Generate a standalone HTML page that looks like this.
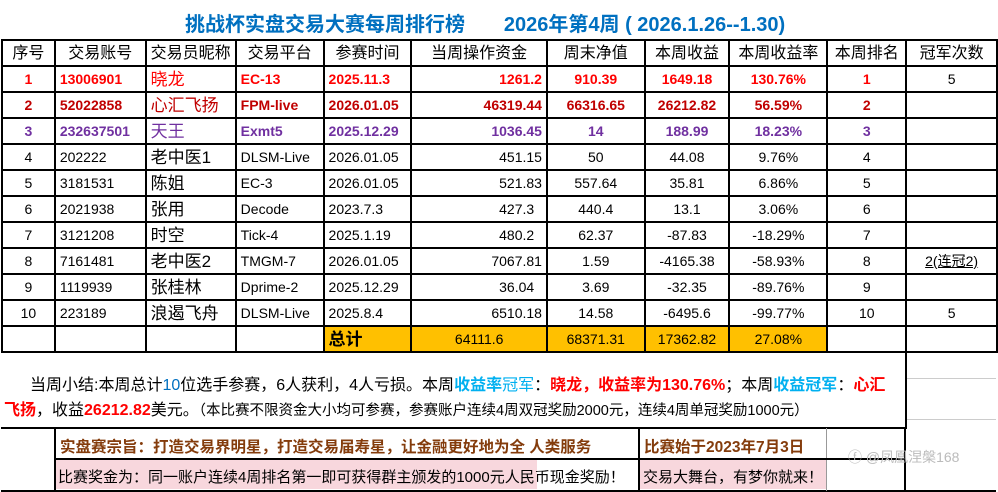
<!DOCTYPE html>
<html><head><meta charset="utf-8"><style>
body{margin:0;width:998px;height:491px;background:#fff;overflow:hidden;position:relative;font-family:"Liberation Sans","Noto Sans CJK SC",sans-serif;}
.t{position:absolute;white-space:nowrap;}
table{position:absolute;left:1px;top:39px;border-collapse:collapse;table-layout:fixed;}
tr{height:26px;}
td{border:2px solid #000;padding:0 4px;font-size:14px;line-height:17px;white-space:nowrap;overflow:hidden;}
tr.h td{font-size:16px;text-align:center;}
.c{text-align:center}.r{text-align:right}
tr.r1 td{color:#f00;font-weight:bold}
tr.r2 td{color:#c00000;font-weight:bold}
tr.r3 td{color:#7030a0;font-weight:bold}
.big{font-size:17px!important;font-weight:normal!important}
.gold{background:#ffc000;text-align:center}
</style></head><body>
<div class="t" style="left:185px;top:8px;font-size:20px;font-weight:bold;color:#0070c0;">挑战杯实盘交易大赛每周排行榜&nbsp;&nbsp;&nbsp;&nbsp;&nbsp;&nbsp;&nbsp;2026年第4周 ( 2026.1.26--1.30)</div>
<table>
<colgroup><col style="width:53px"><col style="width:91px"><col style="width:88px"><col style="width:88px"><col style="width:88px"><col style="width:136px"><col style="width:98px"><col style="width:85px"><col style="width:98px"><col style="width:79px"><col style="width:91px"></colgroup>
<tr class="h"><td>序号</td><td>交易账号</td><td>交易员昵称</td><td>交易平台</td><td>参赛时间</td><td>当周操作资金</td><td>周末净值</td><td>本周收益</td><td>本周收益率</td><td>本周排名</td><td>冠军次数</td></tr>
<tr class="r1"><td class="c">1</td><td>13006901</td><td class="big">晓龙</td><td>EC-13</td><td>2025.11.3</td><td class="r">1261.2</td><td class="c">910.39</td><td class="c">1649.18</td><td class="c">130.76%</td><td class="c">1</td><td class="c" style="color:#000;font-weight:normal">5</td></tr>
<tr class="r2"><td class="c">2</td><td>52022858</td><td class="big">心汇飞扬</td><td>FPM-live</td><td>2026.01.05</td><td class="r">46319.44</td><td class="c">66316.65</td><td class="c">26212.82</td><td class="c">56.59%</td><td class="c">2</td><td></td></tr>
<tr class="r3"><td class="c">3</td><td>232637501</td><td class="big">天王</td><td>Exmt5</td><td>2025.12.29</td><td class="r">1036.45</td><td class="c">14</td><td class="c">188.99</td><td class="c">18.23%</td><td class="c">3</td><td></td></tr>
<tr><td class="c">4</td><td>202222</td><td class="big">老中医1</td><td>DLSM-Live</td><td>2026.01.05</td><td class="r">451.15</td><td class="c">50</td><td class="c">44.08</td><td class="c">9.76%</td><td class="c">4</td><td></td></tr>
<tr><td class="c">5</td><td>3181531</td><td class="big">陈姐</td><td>EC-3</td><td>2026.01.05</td><td class="r">521.83</td><td class="c">557.64</td><td class="c">35.81</td><td class="c">6.86%</td><td class="c">5</td><td></td></tr>
<tr><td class="c">6</td><td>2021938</td><td class="big">张用</td><td>Decode</td><td>2023.7.3</td><td class="r">427.3&nbsp;&nbsp;</td><td class="c">440.4</td><td class="c">13.1</td><td class="c">3.06%</td><td class="c">6</td><td></td></tr>
<tr><td class="c">7</td><td>3121208</td><td class="big">时空</td><td>Tick-4</td><td>2025.1.19</td><td class="r">480.2&nbsp;&nbsp;</td><td class="c">62.37</td><td class="c">-87.83</td><td class="c">-18.29%</td><td class="c">7</td><td></td></tr>
<tr><td class="c">8</td><td>7161481</td><td class="big">老中医2</td><td>TMGM-7</td><td>2026.01.05</td><td class="r">7067.81</td><td class="c">1.59</td><td class="c">-4165.38</td><td class="c">-58.93%</td><td class="c">8</td><td class="c" style="text-decoration:underline">2(连冠2)</td></tr>
<tr><td class="c">9</td><td>1119939</td><td class="big">张桂林</td><td>Dprime-2</td><td>2025.12.29</td><td class="r">36.04&nbsp;&nbsp;</td><td class="c">3.69</td><td class="c">-32.35</td><td class="c">-89.76%</td><td class="c">9</td><td></td></tr>
<tr><td class="c">10</td><td>223189</td><td class="big">浪遏飞舟</td><td>DLSM-Live</td><td>2025.8.4</td><td class="r">6510.18</td><td class="c">14.58</td><td class="c">-6495.6</td><td class="c">-99.77%</td><td class="c">10</td><td class="c">5</td></tr>
<tr><td></td><td></td><td></td><td></td><td style="background:#ffc000;font-size:17px;font-weight:bold">总计</td><td class="gold">64111.6</td><td class="gold">68371.31</td><td class="gold">17362.82</td><td class="gold">27.08%</td><td></td><td></td></tr>
</table>
<div style="position:absolute;left:1px;top:351px;width:904px;height:76px;border-right:2px solid #000;border-bottom:2px solid #000;"></div>
<div style="position:absolute;left:907px;top:378px;width:89px;border-top:1px solid #ccc"></div>
<div style="position:absolute;left:907px;top:419px;width:89px;border-top:1px solid #ccc"></div>
<div class="t" style="left:30px;top:371px;font-size:16px;">当周小结:本周总计<span style="color:#0070c0">10</span>位选手参赛，6人获利，4人亏损。本周<b style="color:#00b0f0">收益率</b><span style="color:#00b0f0">冠军</span>：<b style="color:#f00">晓龙，收益率为130.76%</b>；本周<b style="color:#00b0f0">收益冠军</b>：<b style="color:#f00">心汇</b></div>
<div class="t" style="left:4px;top:396px;font-size:16px;"><b style="color:#f00">飞扬</b>，收益<b style="color:#f00">26212.82</b>美元。<span style="font-size:14.5px">（本比赛不限资金大小均可参赛，参赛账户连续4周双冠奖励2000元，连续4周单冠奖励1000元）</span></div>
<div style="position:absolute;left:1px;top:428px;width:995px;height:62px;border-bottom:2px solid #000"></div>
<div style="position:absolute;left:54px;top:428px;height:63px;border-left:2px solid #000"></div>
<div style="position:absolute;left:638px;top:428px;height:63px;border-left:2px solid #000"></div>
<div style="position:absolute;left:826px;top:428px;height:63px;border-left:1px solid #999"></div>
<div style="position:absolute;left:904px;top:428px;height:63px;border-left:2px solid #000"></div>
<div style="position:absolute;left:55px;top:458px;width:850px;border-top:2px solid #000"></div>
<div style="position:absolute;left:56px;top:460px;width:481px;height:29px;background:#f8d7dd"></div>
<div style="position:absolute;left:640px;top:460px;width:186px;height:29px;background:#f8d7dd"></div>
<div class="t" style="left:60px;top:435px;font-size:15.5px;font-weight:bold;color:#843c0c">实盘赛宗旨：打造交易界明星，打造交易届寿星，让金融更好地为全 人类服务</div>
<div class="t" style="left:644px;top:435px;font-size:15.5px;font-weight:bold;color:#843c0c">比赛始于2023年7月3日</div>
<div class="t" style="left:58px;top:466px;font-size:15px;color:#000">比赛奖金为：同一账户连续4周排名第一即可获得群主颁发的1000元人民币现金奖励！</div>
<div class="t" style="left:643px;top:466px;font-size:15px;color:#000">交易大舞台，有梦你就来！</div>
<div class="t" style="left:848px;top:447px;font-size:14px;color:#bbb">ⓕ @凤凰涅槃168</div>
</body></html>
